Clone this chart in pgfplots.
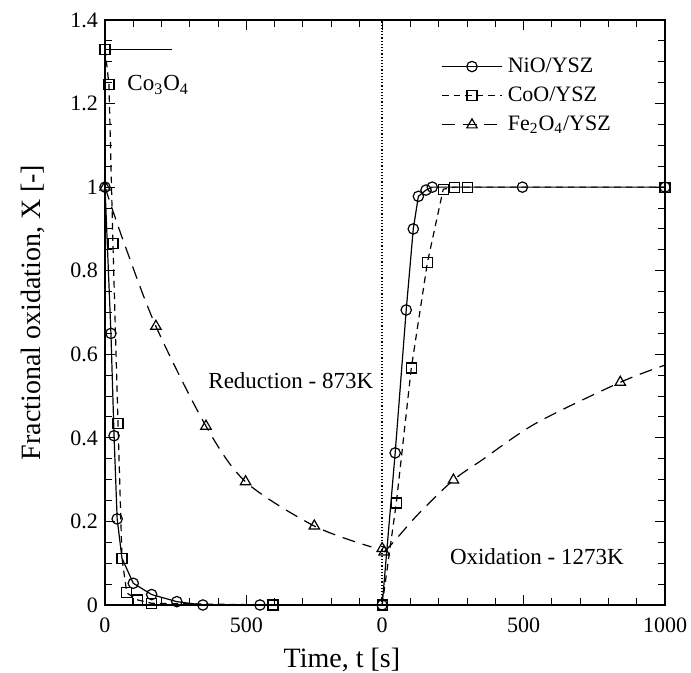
\documentclass[border=0pt]{standalone}
\usepackage{pgfplots}
\pgfplotsset{compat=1.18}
\usepackage{fontspec}
\setmainfont{Liberation Serif}
\begin{document}
\begin{tikzpicture}
\begin{axis}[name=ax, scale only axis, width=280pt, height=292.5pt,
  xmin=0, xmax=1980, ymin=0, ymax=1.4,
  xtick={0,500,980,1480,1980}, xticklabels={0,500,0,500,1000},
  minor xtick={100,200,300,400,600,700,800,900,1080,1180,1280,1380,1580,1680,1780,1880},
  ytick={0,0.2,0.4,0.6,0.8,1,1.2,1.4},
  minor ytick={0.05,0.1,0.15,0.25,0.3,0.35,0.45,0.5,0.55,0.65,0.7,0.75,0.85,0.9,0.95,1.05,1.1,1.15,1.25,1.3,1.35},
  major tick length=5pt, minor tick length=3.3pt,
  tick style={black, line width=0.5pt},
  axis line style={line width=0.9pt},
  /pgf/number format/assume math mode=true,
  ticklabel style={font=\fontsize{11}{13}\selectfont},
  xticklabel style={yshift=-3pt},
  xlabel={Time, t [s]}, ylabel={Fractional oxidation, X [-]},
  label style={font=\fontsize{14}{16}\selectfont},
  xlabel style={at={(axis description cs:0.423,-0.094)}, anchor=center},
  ylabel style={at={(axis description cs:-0.128,0.5)}, anchor=center},
  legend style={at={(rel axis cs:0.6,0.945)}, anchor=north west, draw=none, fill=none,
    font=\fontsize{11}{13}\selectfont, row sep=0.6pt, inner sep=0pt, nodes={inner sep=2.6pt}},
  legend cell align=left,
  legend image code/.code={\draw[#1, mark indices={2}] plot coordinates {(0pt,0pt)(15pt,0pt)(30pt,0pt)};},
  every axis plot/.append style={line width=0.6pt, black},
]
% NiO reduction
\addplot[solid, mark=o, mark size=2.6pt, mark options={solid, fill=white}, mark indices={1,2,3,4,6,7,8,9,10}]
  coordinates {(0,1) (21,0.65) (32,0.405) (43,0.206) (60,0.112) (100,0.052) (165,0.025) (254,0.008) (346,0) (548,0)};
\addlegendentry{NiO/YSZ}
% CoO reduction
\addplot[dash pattern=on 3.3pt off 2.5pt, mark=square, mark size=2.5pt, mark options={solid, fill=white}]
  coordinates {(0,1.33) (14,1.246) (28,0.866) (46,0.435) (60,0.112) (77,0.029) (116,0.012) (165,0.004) (594,0)};
\addlegendentry{CoO/YSZ}
% Fe reduction
\addplot[smooth, dash pattern=on 6.5pt off 4pt, mark=triangle, mark size=3pt, mark options={solid, fill=white}, mark indices={1,3,4,5,6}]
  coordinates {(0,1) (64,0.873) (180,0.667) (357,0.428) (497,0.295) (740,0.189) (942,0.139)};
\addlegendentry{Fe\textsubscript{2}O\textsubscript{4}/YSZ}
\addplot[forget plot, only marks, mark=triangle, mark size=3pt, mark options={solid, fill=white}]
  coordinates {(980,0.135)};
% Fe oxidation
\addplot[forget plot, smooth, dash pattern=on 6.5pt off 4pt, mark=triangle, mark size=3pt, mark options={solid, fill=white}, mark indices={1,4,7}]
  coordinates {(987,0.127) (1022,0.152) (1111,0.22) (1232,0.299) (1333,0.347) (1524,0.435) (1822,0.533) (1980,0.574)};
% NiO oxidation
\addplot[forget plot, solid, mark=o, mark size=2.6pt, mark options={solid, fill=white}]
  coordinates {(980,0) (1026,0.364) (1065,0.706) (1090,0.90) (1108,0.978) (1135,0.993) (1157,1.0) (1476,1.0) (1980,1.0)};
% CoO oxidation
\addplot[forget plot, dash pattern=on 3.3pt off 2.5pt, mark=square, mark size=2.5pt, mark options={solid, fill=white}]
  coordinates {(980,0) (1030,0.244) (1083,0.567) (1140,0.82) (1196,0.995) (1235,1.0) (1281,1.0) (1980,1.0)};
% Co3O4 reference line and separator
\addplot[forget plot, solid] coordinates {(0,1.33) (237,1.33)};
\addplot[forget plot, densely dotted, line width=0.8pt] coordinates {(980,0) (980,1.4)};
\node[anchor=west, inner sep=0pt, font=\fontsize{11.5}{14}\selectfont] at (axis cs:78,1.244) {Co\textsubscript{3}O\textsubscript{4}};
\node[font=\fontsize{11.5}{14}\selectfont] at (axis cs:657,0.538) {Reduction - 873K};
\node[font=\fontsize{11.5}{14}\selectfont] at (axis cs:1527,0.115) {Oxidation - 1273K};
\end{axis}
\pgfresetboundingbox
\path[use as bounding box] ([xshift=-52.5pt,yshift=-34pt]ax.south west) rectangle ([xshift=13pt,yshift=10pt]ax.north east);
\end{tikzpicture}
\end{document}
